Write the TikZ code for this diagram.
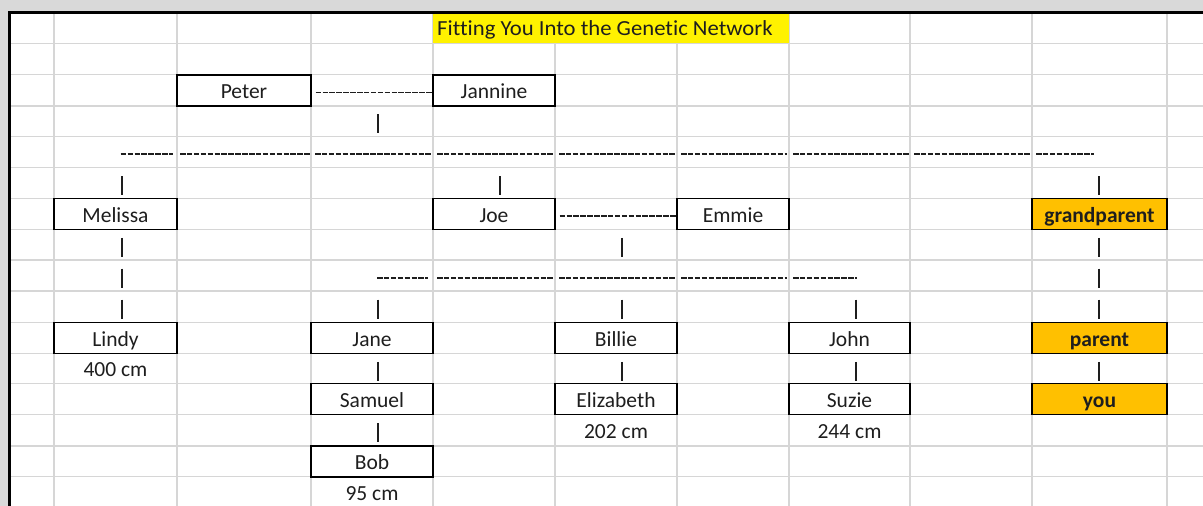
\documentclass[tikz,border=0pt]{standalone}
\usepackage{fontspec}
\setmainfont{Carlito}[Ligatures=NoCommon]
\begin{document}
\begin{tikzpicture}[x=1pt,y=-1pt]
\definecolor{gridc}{RGB}{214,214,214}
\definecolor{bgc}{RGB}{217,217,217}
\definecolor{orangec}{RGB}{255,192,0}
\definecolor{inkc}{RGB}{30,30,30}
\tikzset{
 txt/.style={inner sep=0pt, text height=20pt, text depth=3pt, font=\fontsize{21.5}{24}\selectfont, text=inkc},
 cellbox/.style={txt, draw=black, line width=1.3pt, minimum height=31pt},
 hilite/.style={cellbox, fill=orangec, font=\fontsize{21.5}{24}\selectfont\bfseries},
 dashln/.style={draw=inkc, line width=1.6pt, dash pattern=on 5.5pt off 1.4pt},
 barln/.style={draw=inkc, line width=2pt},
 gridln/.style={draw=gridc, line width=1.5pt}
}
\newcommand\vbarmk[2]{\draw[barln] (#1,#2+8.5) -- (#1,#2+27.5);}
\useasboundingbox (0,0) rectangle (1203,506);
\fill[bgc] (0,0) rectangle (1203,506);
\fill[white] (9,12.5) rectangle (1203,506);
% grid
\foreach \gx in {54,177,311,433,555,677,789,910,1032,1167}
  \draw[gridln] (\gx,14) -- (\gx,506);
\foreach \gy in {43.3,74.7,106,136.7,167.7,198.3,229.3,260,291,322.3,353.3,383.3,414.7,446,476.7}
  \draw[gridln] (11,\gy) -- (1203,\gy);
\draw[black,line width=3pt] (9.3,506) -- (9.3,12.5) -- (1203,12.5);
% title
\fill[yellow] (432.5,14) rectangle (789,43);
\node[txt, anchor=base west] (title) at (437,35.7) {\scalebox{1.055}[1]{Fitting You Into the Genetic Network}};
% boxes
\node[cellbox, minimum width=134pt] (peter) at (244,90.35) {Peter};
\node[cellbox, minimum width=122pt] (jannine) at (494,90.35) {Jannine};
\node[cellbox, minimum width=123pt] (melissa) at (115.5,213.8) {Melissa};
\node[cellbox, minimum width=122pt] (joe) at (494,213.8) {Joe};
\node[cellbox, minimum width=112pt] (emmie) at (733,213.8) {Emmie};
\node[hilite, minimum width=135pt] (grandparent) at (1099.5,213.8) {grandparent};
\node[cellbox, minimum width=123pt] (lindy) at (115.5,337.8) {Lindy};
\node[cellbox, minimum width=122pt] (jane) at (372,337.8) {Jane};
\node[cellbox, minimum width=122pt] (billie) at (616,337.8) {Billie};
\node[cellbox, minimum width=121pt] (john) at (849.5,337.8) {John};
\node[hilite, minimum width=135pt] (parent) at (1099.5,337.8) {parent};
\node[cellbox, minimum width=122pt] (samuel) at (372,399) {Samuel};
\node[cellbox, minimum width=122pt] (elizabeth) at (616,399) {Elizabeth};
\node[cellbox, minimum width=121pt] (suzie) at (849.5,399) {Suzie};
\node[hilite, minimum width=135pt] (you) at (1099.5,399) {you};
\node[cellbox, minimum width=122pt] (bob) at (372,461.35) {Bob};
% measurements
\node[txt] (lindycm) at (115.5,368.3) {400 cm};
\node[txt] (elizcm) at (616,430.35) {202 cm};
\node[txt] (suziecm) at (849.5,430.35) {244 cm};
\node[txt] (bobcm) at (372,492.2) {95 cm};
% couple connectors
\draw[dashln] ([xshift=4pt,yshift=-2.2pt]peter.east) -- ([yshift=-2.2pt]jannine.west);
\draw[dashln] ([xshift=4pt,yshift=-2.2pt]joe.east) -- ([yshift=-2.2pt]emmie.west);
% sibling lines
\foreach \a/\b in {120.7/172.7,180/310,315/432,437/553,559/675,681/787,793/909,914/1031,1036/1094}
  \draw[dashln] (\a,154.2) -- (\b,154.2);
\foreach \a/\b in {377/428,437/553,559/675,681/787,793/857}
  \draw[dashln] (\a,277.7) -- (\b,277.7);
% vertical bars
\vbarmk{378}{105.8}
\vbarmk{122}{167.7}\vbarmk{500}{167.7}\vbarmk{1099.3}{167.7}
\vbarmk{122}{229.3}\vbarmk{622}{229.3}\vbarmk{1099.3}{229.3}
\vbarmk{122}{260}\vbarmk{1099.3}{260}
\vbarmk{122}{291}\vbarmk{378}{291}\vbarmk{622}{291}\vbarmk{856}{291}\vbarmk{1099.3}{291}
\vbarmk{378}{353.3}\vbarmk{622}{353.3}\vbarmk{856}{353.3}\vbarmk{1099.3}{353.3}
\vbarmk{378}{414.7}
\end{tikzpicture}
\end{document}
